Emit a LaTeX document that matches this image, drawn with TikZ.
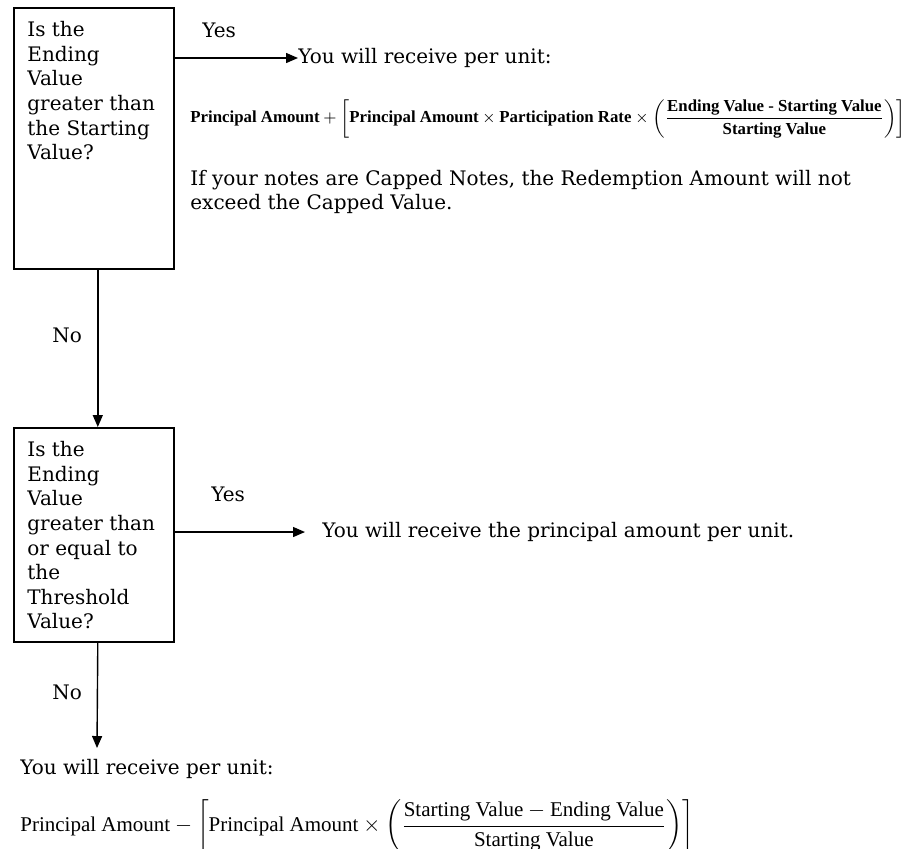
\documentclass[tikz,border=0pt]{standalone}
\usepackage{amsmath}
\usepackage{fontspec}
\setmainfont{DejaVu Serif}
\newfontfamily\formfont{Liberation Serif}
\usetikzlibrary{arrows.meta}
\def\flowarrow{\draw[-{Triangle[length=6pt,width=5pt]}, line width=0.7pt]}
\tikzset{
  qbox/.style={draw, line width=0.8pt, anchor=north west, inner sep=0pt, minimum width=80pt},
  qtext/.style={anchor=north west, align=left, inner xsep=7pt, inner ysep=7pt,
    font=\fontsize{10}{12.3}\selectfont},
  plain/.style={anchor=west, inner sep=0pt, align=left, font=\fontsize{10}{12.3}\selectfont},
  formula/.style={anchor=west, inner sep=0pt, font=\formfont\fontsize{10.5}{12}\selectfont}
}

\begin{document}
\begin{tikzpicture}[x=0.5pt,y=-0.5pt]
\useasboundingbox (0,0) rectangle (914,848);
% first question
\node[qbox, minimum height=130.5pt] (q1) at (13,7) {};
\node[qtext] (q1t) at (q1.north west) {Is the\\Ending\\Value\\greater than\\the Starting\\Value?};
\node[plain] (yes1) at (202,30) {Yes};
\node[plain] (r1) at (298,58) {You will receive per unit:};
\node[formula, font=\formfont\bfseries\fontsize{8.4}{10}\selectfont] (f1) at (190,119)
  {$\text{Principal Amount} + \left[\text{Principal Amount} \times \text{Participation Rate} \times
    \left(\dfrac{\text{Ending Value - Starting Value}}{\text{Starting Value}}\right)\right]$};
\node[plain] (cap) at (190,192) {If your notes are Capped Notes, the Redemption Amount will not\\exceed the Capped Value.};
\flowarrow (q1.east |- r1.west) -- (r1.west);
% second question
\node[qbox, minimum height=107pt] (q2) at (13,427) {};
\node[qtext] (q2t) at (q2.north west) {Is the\\Ending\\Value\\greater than\\or equal to\\the\\Threshold\\Value?};
\node[plain] (no1) at (52,335) {No};
\flowarrow ([xshift=2pt]q1.south) -- ([xshift=2pt]q2.north);
\node[plain] (yes2) at (211,494) {Yes};
\node[plain] (r2) at (322,532) {You will receive the principal amount per unit.};
\flowarrow (q2.east |- r2.west) -- ([xshift=-8.5pt]r2.west);
% last case
\node[plain] (no2) at (52,692) {No};
\coordinate (down) at (97,748);
\flowarrow ([xshift=2pt]q2.south) -- (down);
\node[plain] (r3) at (20,769) {You will receive per unit:};
\node[formula] (f2) at (20,826)
  {$\text{Principal Amount} - \left[\text{Principal Amount} \times
    \left(\dfrac{\text{Starting Value} - \text{Ending Value}}{\text{Starting Value}}\right)\right]$};
\end{tikzpicture}
\end{document}
